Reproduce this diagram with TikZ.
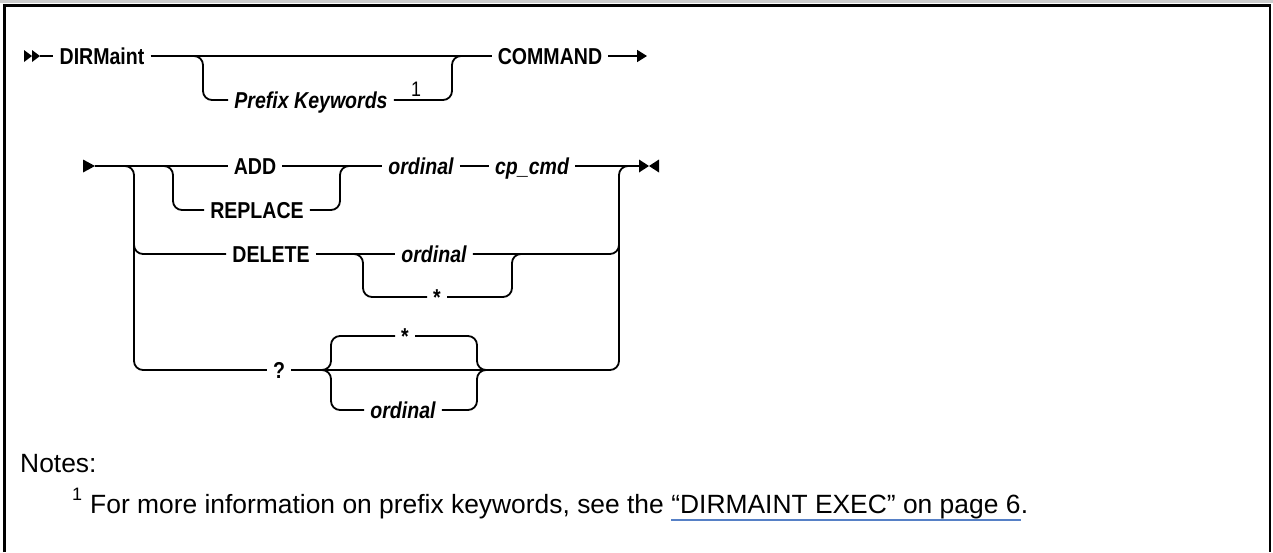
\documentclass[tikz,border=0pt]{standalone}
\usepackage{fontspec}
\setmainfont{Liberation Sans}
\newfontfamily\synfont[FakeStretch=0.85]{Liberation Sans}
\usetikzlibrary{arrows.meta}
\usetikzlibrary{positioning}

\definecolor{linkblue}{RGB}{86,128,198}
\tikzset{
  rail/.style={line width=1.8pt,rounded corners=9pt},
  kw/.style={font=\synfont\bfseries\fontsize{23}{23}\selectfont,inner xsep=6pt,inner ysep=0pt,text height=16.5pt,text depth=0pt},
  var/.style={kw,font=\synfont\bfseries\itshape\fontsize{23}{23}\selectfont},
  note/.style={font=\fontsize{26.4}{26.4}\selectfont,inner sep=0pt,anchor=base west}
}

\begin{document}
\begin{tikzpicture}[x=1pt,y=-1pt]
      \useasboundingbox (0,0) rectangle (1273,552);
      \fill[black!20] (0,0) rectangle (1273,3);
      \draw[line width=2.5pt] (4.5,552) -- (4.5,5.5) -- (1270,5.5) -- (1270,552);
      % first line
      \node[kw] (dirm) at (102,56) {DIRMaint};
      \node[var] (pk) at (311,100) {Prefix Keywords};
      \node[font=\synfont\fontsize{21}{21}\selectfont,inner sep=0pt] (one) at (416,89) {1};
      \node[kw] (cmd) at (550,56) {COMMAND};
      \coordinate (r1start) at (40,56);
      \coordinate (r1end) at (647,56);
      \foreach\x in {24,32}
        \fill (\x,50) -- ++(8,6) -- ++(-8,6) -- cycle;
      \draw[rail] (r1start) -- (dirm.west);
      \draw[rail] (dirm.east) -- (cmd.west);
      \draw[rail] (193,56) -- ++(10,0) |- (pk.west);
      \draw[rail] (pk.east) -| (452,56) -- ++(10,0);
      \draw[rail,-{Triangle[length=10pt,width=12pt]}] (cmd.east) -- (r1end);
      % second line
      \node[kw] (add) at (255,166) {ADD};
      \node[kw] (rep) at (257,210) {REPLACE};
      \node[var] (ord1) at (421,166) {ordinal};
      \node[var] (cpcmd) at (532,166) {cp\_cmd};
      \node[kw] (del) at (271,254) {DELETE};
      \node[var] (ord2) at (434,254) {ordinal};
      \node[kw] (dstar) at (437,297) {*};
      \node[kw] (quest) at (279,370) {?};
      \node[kw] (qstar) at (405,336) {*};
      \node[var] (ord3) at (403,410) {ordinal};
      \coordinate (r2start) at (95,166);
      \coordinate (r2end) at (639,166);
      \fill (83,159.5) -- (r2start) -- (83,172.5) -- cycle;
      \fill (r2end) ++(0,-6.5) -- ++(10,6.5) -- ++(-10,6.5) -- cycle;
      \fill (r2end) ++(20,-6.5) -- ++(-10,6.5) -- ++(10,6.5) -- cycle;
      \draw[rail] (r2start) -- (add.west);
      \draw[rail] (add.east) -- (ord1.west);
      \draw[rail] (ord1.east) -- (cpcmd.west);
      \draw[rail] (cpcmd.east) -- (r2end);
      \draw[rail] (163,166) -- ++(10,0) |- (rep.west);
      \draw[rail] (rep.east) -| (340,166) -- ++(10,0);
      \draw[rail] (124,166) -- ++(10,0) |- (quest.west);
      \draw[rail] (134,230) |- (del.west);
      \draw[rail] (del.east) -- (ord2.west);
      \draw[rail] (ord2.east) -| (619,230);
      \draw[rail] (353,254) -- ++(10,0) |- (dstar.west);
      \draw[rail] (dstar.east) -| (512,254) -- ++(10,0);
      \draw[rail] (quest.east) -| (619,166) -- ++(10,0);
      \draw[rail] (321,370) -- ++(10,0) |- (qstar.west);
      \draw[rail] (321,370) -- ++(10,0) |- (ord3.west);
      \draw[rail] (qstar.east) -| (477,370) -- ++(10,0);
      \draw[rail] (ord3.east) -| (477,370) -- ++(10,0);
      % notes
      \node[note] (notes) at (20,472) {Notes:};
      \node[note,font=\fontsize{18}{18}\selectfont] (fnmark) at (72,500) {1};
      \node[note] (fntext) at (90,513) {For more information on prefix keywords, see the};
      \node[note] (fnlink) at ([xshift=7pt]fntext.base east) {“DIRMAINT EXEC” on page 6};
      \node[note] (fndot) at (fnlink.base east) {.};
      \draw[linkblue,line width=1.5pt] ([yshift=-7pt]fnlink.base west) -- ([yshift=-7pt]fnlink.base east);
\end{tikzpicture}
\end{document}
